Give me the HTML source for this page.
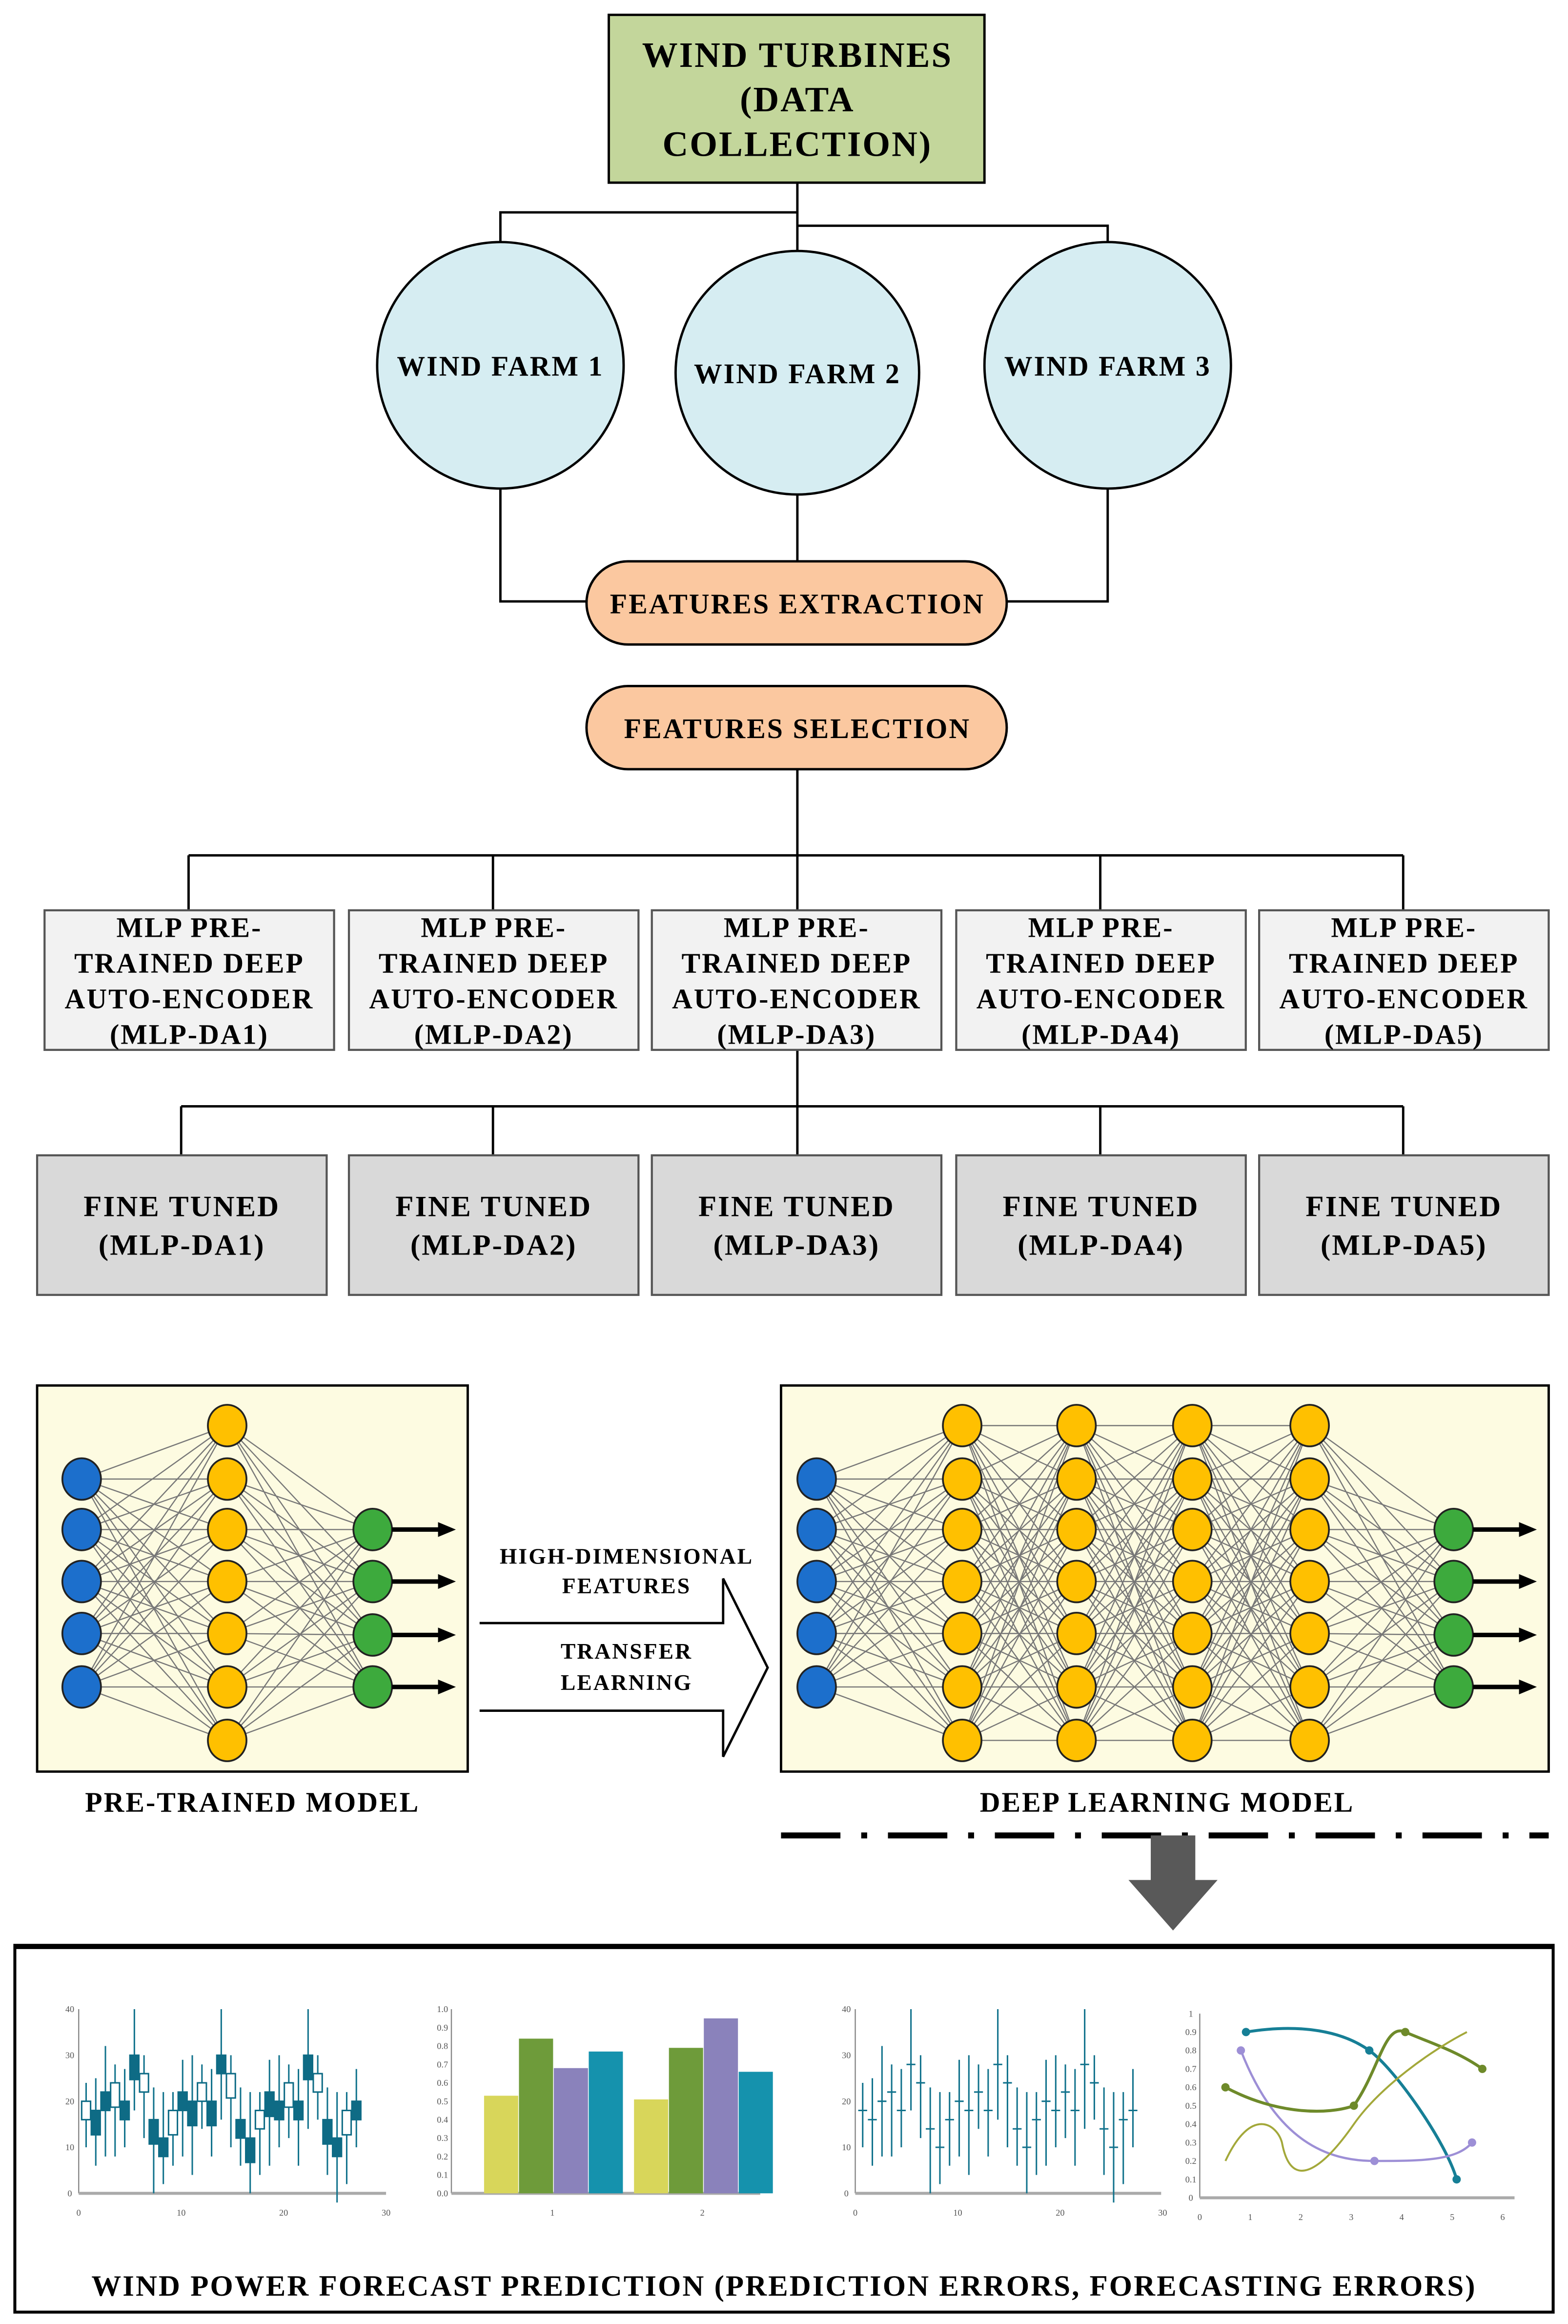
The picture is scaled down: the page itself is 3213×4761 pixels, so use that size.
<!DOCTYPE html>
<html><head><meta charset="utf-8">
<style>html,body{margin:0;padding:0;background:#fff}svg{display:block}
text{font-family:"Liberation Serif",serif;font-weight:bold;text-anchor:middle;fill:#000;letter-spacing:1px}</style></head>
<body>
<svg id="s" xmlns="http://www.w3.org/2000/svg" width="3213" height="4761" viewBox="0 0 1056 1565" preserveAspectRatio="none">
<rect width="1056" height="1565" fill="#fff"/>
<g stroke="#000" stroke-width="1.6" fill="none">
<path d="M537 123V170M537 143H337V165M537 152H746V165"/>
<path d="M337 328V405H395M746 328V405H678M537 332V378"/>
<path d="M537 518V576M127 576H945M127 576V613M332 576V613M537 576V613M741 576V613M945 576V613"/>
<path d="M537 707V745M122 745H945M122 745V778M332 745V778M537 745V778M741 745V778M945 745V778"/>
</g>
<rect x="410" y="10" width="253" height="113" fill="#c3d69b" stroke="#000" stroke-width="1.6"/>
<text x="537" y="45" font-size="24">WIND TURBINES</text>
<text x="537" y="75" font-size="24">(DATA</text>
<text x="537" y="105" font-size="24">COLLECTION)</text>
<g fill="#d6edf2" stroke="#000" stroke-width="1.6">
<circle cx="337" cy="246" r="83"/><circle cx="537" cy="251" r="82"/><circle cx="746" cy="246" r="83"/></g>
<text x="337" y="253" font-size="19">WIND FARM 1</text>
<text x="537" y="258" font-size="19">WIND FARM 2</text>
<text x="746" y="253" font-size="19">WIND FARM 3</text>
<rect x="395" y="378" width="283" height="56" rx="28" fill="#fbc8a0" stroke="#000" stroke-width="1.6"/>
<text x="537" y="413" font-size="19">FEATURES EXTRACTION</text>
<rect x="395" y="462" width="283" height="56" rx="28" fill="#fbc8a0" stroke="#000" stroke-width="1.6"/>
<text x="537" y="497" font-size="19">FEATURES SELECTION</text>
<g id="mlp"></g>
<rect x="25" y="933" width="290" height="260" fill="#fdfbe1" stroke="#000" stroke-width="1.6"/>
<rect x="526" y="933" width="517" height="260" fill="#fdfbe1" stroke="#000" stroke-width="1.6"/>
<g id="net"></g>
<path d="M323 1093H487V1063L517 1123L487 1183V1152H323" fill="none" stroke="#000" stroke-width="1.6"/>
<text x="422" y="1053" font-size="15">HIGH-DIMENSIONAL</text>
<text x="422" y="1073" font-size="15">FEATURES</text>
<text x="422" y="1117" font-size="15">TRANSFER</text>
<text x="422" y="1138" font-size="15">LEARNING</text>
<text x="170" y="1220" font-size="19">PRE-TRAINED MODEL</text>
<text x="786" y="1220" font-size="19">DEEP LEARNING MODEL</text>
<line x1="526" y1="1236" x2="1043" y2="1236" stroke="#000" stroke-width="4" stroke-dasharray="40 14 4 14"/>
<path d="M775 1236H805V1266H820L790 1300L760 1266H775Z" fill="#595959"/>
<rect x="10" y="1310" width="1036" height="247" fill="#fff" stroke="#000" stroke-width="2"/>
<line x1="10" y1="1311" x2="1046" y2="1311" stroke="#000" stroke-width="3"/>
<text x="528" y="1546" font-size="20">WIND POWER FORECAST PREDICTION (PREDICTION ERRORS, FORECASTING ERRORS)</text>
<g id="ch"></g>
</svg>
<script>
var NS="http://www.w3.org/2000/svg";
function el(p,t,a,txt){var e=document.createElementNS(NS,t);for(var k in a)e.setAttribute(k,a[k]);if(txt!=null)e.textContent=txt;document.getElementById(p).appendChild(e);return e;}
var xs=[30,235,439,644,848];
for(var i=0;i<5;i++){
 el("mlp","rect",{x:xs[i],y:613,width:195,height:94,fill:"#f2f2f2",stroke:"#555","stroke-width":1.4});
 var c=xs[i]+97.5;
 ["MLP PRE-","TRAINED DEEP","AUTO-ENCODER","(MLP-DA"+(i+1)+")"].forEach(function(s,j){el("mlp","text",{x:c,y:631+j*24,"font-size":19},s);});
 var fx=(i==0?25:xs[i]);
 el("mlp","rect",{x:fx,y:778,width:195,height:94,fill:"#d9d9d9",stroke:"#555","stroke-width":1.4});
 el("mlp","text",{x:fx+97.5,y:819,"font-size":20},"FINE TUNED");
 el("mlp","text",{x:fx+97.5,y:845,"font-size":20},"(MLP-DA"+(i+1)+")");
}
var B=[996,1030,1065,1100,1136],Y=[960,996,1030,1065,1100,1136,1172],G=[1030,1065,1101,1136];
function net(cols){
 for(var c=0;c<cols.length-1;c++){var a=cols[c],b=cols[c+1];
  a.ys.forEach(function(y1){b.ys.forEach(function(y2){el("net","line",{x1:a.x,y1:y1,x2:b.x,y2:y2,stroke:"#777","stroke-width":0.8});});});}
 cols.forEach(function(col){col.ys.forEach(function(y){el("net","ellipse",{cx:col.x,cy:y,rx:13,ry:14,fill:col.f,stroke:"#222","stroke-width":1.2});});});
 var g=cols[cols.length-1];
 g.ys.forEach(function(y){el("net","line",{x1:g.x+13,y1:y,x2:g.x+46,y2:y,stroke:"#000","stroke-width":3});
  el("net","path",{d:"M"+(g.x+44)+" "+(y-5)+"L"+(g.x+56)+" "+y+"L"+(g.x+44)+" "+(y+5)+"Z",fill:"#000"});});
}
net([{x:55,ys:B,f:"#1c6fcc"},{x:153,ys:Y,f:"#ffc000"},{x:251,ys:G,f:"#3daa3d"}]);
net([{x:550,ys:B,f:"#1c6fcc"},{x:648,ys:Y,f:"#ffc000"},{x:725,ys:Y,f:"#ffc000"},{x:803,ys:Y,f:"#ffc000"},{x:882,ys:Y,f:"#ffc000"},{x:979,ys:G,f:"#3daa3d"}]);
function axes(x0,x1,y0,y1,yl,xl){
 el("ch","line",{x1:x0,y1:y0,x2:x0,y2:y1,stroke:"#888","stroke-width":0.8});
 el("ch","line",{x1:x0,y1:y1,x2:x1,y2:y1,stroke:"#aaa","stroke-width":2});
 yl.forEach(function(l,i){var y=y1-(y1-y0)*i/(yl.length-1);el("ch","text",{x:x0-6,y:y+2,"font-size":6,style:"font-weight:normal;fill:#555;letter-spacing:0"},l);});
 xl.forEach(function(l){el("ch","text",{x:l[0],y:y1+15,"font-size":6,style:"font-weight:normal;fill:#555;letter-spacing:0"},l[1]);});
}
function candles(x0,x1,y0,y1,thick){
 axes(x0,x1,y0,y1,["0","10","20","30","40"],[[x0,"0"],[x0+69,"10"],[x0+138,"20"],[x0+207,"30"]]);
 var vals=[18,16,20,22,18,28,24,14,10,16,20,18,22,18,28,24,14,10,16,20,18,22,18,28,24,14,10,16,18];
 for(var i=0;i<vals.length;i++){var x=x0+5+i*6.5,v=vals[i],sc=(y1-y0)/40;
  var hi=v+6+(i%3)*3,lo=v-8-(i%4)*2;
  el("ch","line",{x1:x,y1:y1-hi*sc,x2:x,y2:y1-lo*sc,stroke:"#11728c","stroke-width":1});
  if(thick)el("ch","rect",{x:x-3,y:y1-(v+2)*sc,width:6,height:4*sc+(i%2)*4,fill:(i%3?"#0e6b85":"#fff"),stroke:"#0e6b85","stroke-width":1});
  else el("ch","line",{x1:x-3,y1:y1-v*sc,x2:x+3,y2:y1-v*sc,stroke:"#11728c","stroke-width":1});}
}
candles(53,260,1353,1477,true);
candles(576,782,1353,1477,false);
var bx0=304,bx1=512,by0=1353,by1=1477;
axes(bx0,bx1,by0,by1,["0.0","0.1","0.2","0.3","0.4","0.5","0.6","0.7","0.8","0.9","1.0"],[[372,"1"],[473,"2"]]);
var bars=[[0.53,"#d8d65a"],[0.84,"#6e9b3a"],[0.68,"#8a82bb"],[0.77,"#1592ad"]],bars2=[[0.51,"#d8d65a"],[0.79,"#6e9b3a"],[0.95,"#8a82bb"],[0.66,"#1592ad"]];
bars.forEach(function(b,i){el("ch","rect",{x:326+i*23.5,y:by1-b[0]*124,width:23,height:b[0]*124,fill:b[1]});});
bars2.forEach(function(b,i){el("ch","rect",{x:427+i*23.5,y:by1-b[0]*124,width:23,height:b[0]*124,fill:b[1]});});
var lx0=808,lx1=1020,ly0=1356,ly1=1480;
axes(lx0,lx1,ly0,ly1,["0","0.1","0.2","0.3","0.4","0.5","0.6","0.7","0.8","0.9","1"],[[808,"0"],[842,"1"],[876,"2"],[910,"3"],[944,"4"],[978,"5"],[1012,"6"]]);
function P(x,y){return (lx0+x*34.6)+" "+(ly1-y*124);}
el("ch","path",{d:"M"+P(0.9,0.9)+"C"+P(2,0.95)+" "+P(2.8,0.9)+" "+P(3.3,0.8)+"S"+P(4.8,0.3)+" "+P(5,0.1),fill:"none",stroke:"#167f96","stroke-width":2});
el("ch","path",{d:"M"+P(0.8,0.8)+"C"+P(1.5,0.3)+" "+P(2.5,0.2)+" "+P(3.4,0.2)+"S"+P(5,0.2)+" "+P(5.3,0.3),fill:"none",stroke:"#9d8fd6","stroke-width":1.5});
el("ch","path",{d:"M"+P(0.5,0.6)+"C"+P(1.5,0.45)+" "+P(2.5,0.45)+" "+P(3,0.5)+"C"+P(3.5,0.7)+" "+P(3.6,0.95)+" "+P(4,0.9)+"S"+P(5,0.8)+" "+P(5.5,0.7),fill:"none",stroke:"#6e8a2a","stroke-width":2});
el("ch","path",{d:"M"+P(0.5,0.2)+"C"+P(1,0.5)+" "+P(1.5,0.4)+" "+P(1.6,0.3)+"C"+P(1.8,0)+" "+P(2.5,0.2)+" "+P(3,0.4)+"S"+P(4.5,0.8)+" "+P(5.2,0.9),fill:"none",stroke:"#a3a83a","stroke-width":1.3});
[[0.9,0.9,"#167f96"],[3.3,0.8,"#167f96"],[5,0.1,"#167f96"],[0.8,0.8,"#9d8fd6"],[3.4,0.2,"#9d8fd6"],[5.3,0.3,"#9d8fd6"],[0.5,0.6,"#6e8a2a"],[3,0.5,"#6e8a2a"],[4,0.9,"#6e8a2a"],[5.5,0.7,"#6e8a2a"]].forEach(function(p){
 var a=P(p[0],p[1]).split(" ");el("ch","circle",{cx:a[0],cy:a[1],r:2.8,fill:p[2]});});
</script>
</body></html>
